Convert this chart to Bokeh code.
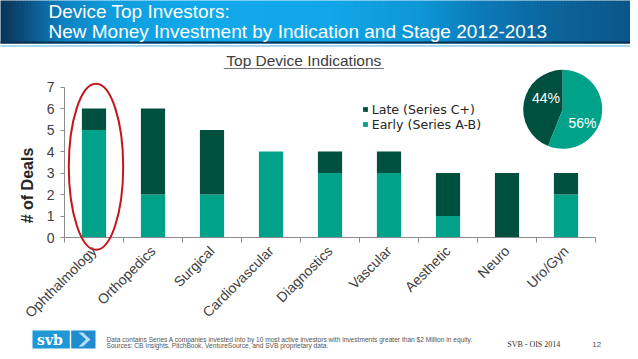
import math
from bokeh.plotting import figure
from bokeh.models import Legend, LegendItem, FixedTicker, ColumnDataSource
from bokeh.core.properties import value
from bokeh.embed import file_html
from bokeh.resources import INLINE

# ---------------- data ----------------
categories = ["Ophthalmology", "Orthopedics", "Surgical", "Cardiovascular",
              "Diagnostics", "Vascular", "Aesthetic", "Neuro", "Uro/Gyn"]
early = [5, 2, 2, 4, 3, 3, 1, 0, 2]
late = [1, 4, 3, 0, 1, 1, 2, 3, 1]
series_names = ["Late (Series C+)", "Early (Series A-B)"]
pie_share = [44, 56]          # late, early (%)
y_ticks = [0, 1, 2, 3, 4, 5, 6, 7]
title_lines = ["Device Top Investors:",
               "New Money Investment by Indication and Stage 2012-2013"]
subtitle = "Top Device Indications"
y_label = "# of Deals"
foot_lines = ["Data contains Series A companies invested into by 10 most active investors with investments greater than $2 Million in equity.",
              "Sources: CB Insights, PitchBook, VentureSource, and SVB proprietary data."]
foot_right = "SVB  - OIS 2014"
page_no = "12"

# ---------------- layout / style ----------------
W, H = 630, 351
FL, FR, FT, FB = 64, 610, 60, 237      # plot frame in canvas pixels
UX, UY = 59.0, 21.5                    # pixels per category / per deal
X0 = 0.5
X1 = X0 + (FR - FL) / UX
Y1 = (FB - FT) / UY

def DX(px):  # canvas pixel -> data x (for decorations outside the frame)
    return X0 + (px - FL) / UX
def DY(py):
    return (FB - py) / UY

EARLY_C = "#00A38A"
LATE_C = "#00503F"
AXIS_C = "#8C8C8C"
TXT_C = "#404040"
FONT = "Liberation Sans"

p = figure(width=W, height=H, x_range=(X0, X1), y_range=(0, Y1),
           output_backend="svg", toolbar_location=None,
           min_border_left=FL, min_border_right=W - FR,
           min_border_top=FT, min_border_bottom=H - FB,
           outline_line_color=None, background_fill_color="white",
           border_fill_color="white")
p.xgrid.visible = False
p.ygrid.visible = False

src = ColumnDataSource(dict(x=[i + 1 for i in range(len(categories))],
                            early=early, late=late))
rs = p.vbar_stack(["early", "late"], x="x", width=0.41, source=src,
                  fill_color=[EARLY_C, LATE_C], line_color=None)

# axes
xa = p.xaxis[0]
xa.ticker = FixedTicker(ticks=[i + 1 for i in range(len(categories))],
                        minor_ticks=[i + 0.5 for i in range(len(categories) + 1)])
xa.bounds = (0.5, len(categories) + 0.5)
xa.major_label_overrides = {i + 1: c for i, c in enumerate(categories)}
xa.major_tick_out = 0
xa.major_tick_in = 0
xa.minor_tick_out = 5
xa.minor_tick_in = 0
xa.axis_line_color = AXIS_C
xa.minor_tick_line_color = AXIS_C
xa.major_label_orientation = math.pi / 4
xa.major_label_text_font = FONT
xa.major_label_text_font_size = "14px"
xa.major_label_text_color = TXT_C
xa.major_label_standoff = 6

ya = p.yaxis[0]
ya.ticker = FixedTicker(ticks=y_ticks)
ya.bounds = (y_ticks[0], y_ticks[-1])
ya.major_tick_out = 4
ya.major_tick_in = 0
ya.minor_tick_out = 0
ya.minor_tick_in = 0
ya.axis_line_color = AXIS_C
ya.major_tick_line_color = AXIS_C
ya.major_label_text_font = FONT
ya.major_label_text_font_size = "14px"
ya.major_label_text_color = TXT_C
ya.major_label_standoff = 6

# legend
legend = Legend(items=[LegendItem(label=series_names[0], renderers=[rs[1]]),
                       LegendItem(label=series_names[1], renderers=[rs[0]])],
                location=(361.7 - FL, FB - 131.8),
                glyph_width=6, glyph_height=6, label_height=15, spacing=0,
                padding=0, margin=0, label_standoff=4,
                label_text_font="DejaVu Sans", label_text_font_size="12.6px",
                label_text_color="#262626",
                border_line_alpha=0, background_fill_alpha=0)
p.add_layout(legend)

# pie
PIE_X, PIE_Y = DX(562.2), DY(108.8)
starts, ends = [], []
acc = math.pi / 2
for s in pie_share:
    starts.append(acc)
    acc += s / 100 * 2 * math.pi
    ends.append(acc)
p.wedge(x=[PIE_X] * 2, y=[PIE_Y] * 2, radius=39.5, radius_units="screen",
        start_angle=starts, end_angle=ends, fill_color=[LATE_C, EARLY_C],
        line_color=None, level="overlay")
p.text(x=[PIE_X] * 2, y=[PIE_Y] * 2, text=[f"{s}%" for s in pie_share],
       x_offset=[-16.7, 19.8], y_offset=[-11.6, 14.0],
       text_align="center", text_baseline="middle", text_color="white",
       text_font=value(FONT), text_font_size="14px", level="overlay")

# highlight ellipse around first category
p.ellipse(x=[DX(95.5)], y=[DY(166.3)], width=54.4, height=166,
          width_units="screen", height_units="screen", fill_alpha=0,
          line_color="#C3161C", line_width=2, level="overlay")

# ---------------- decorations (overlay glyphs, not clipped) ----------------
def box(l, r, t, b, color):
    p.quad(left=[DX(l)], right=[DX(r)], top=[DY(t)], bottom=[DY(b)],
           fill_color=color, line_color=None, level="overlay")

def txt(x, y, s, size, color, font=FONT, style="normal", align="left",
        angle=0.0):
    # y is the vertical centre of the text
    p.text(x=[DX(x)], y=[DY(y)], text=[s], text_font=value(font),
           text_font_size=size, text_color=color, text_font_style=style,
           text_align=align, text_baseline="middle", angle=angle, level="overlay")

# banner gradient
stops = [(0, "#0a3457"), (25, "#0b4f80"), (60, "#0d7fbf"), (110, "#0f9ddd"),
         (200, "#12a9ea"), (330, "#11a6e7"), (420, "#0e96d6"), (480, "#0c7ab8"),
         (560, "#0b6399"), (638, "#0a5587")]
def hex2rgb(h):
    return tuple(int(h[i:i + 2], 16) for i in (1, 3, 5))
def interp(xv):
    for (a, ca), (b, cb) in zip(stops[:-1], stops[1:]):
        if a <= xv <= b:
            t = (xv - a) / (b - a)
            r1, g1, b1 = hex2rgb(ca)
            r2, g2, b2 = hex2rgb(cb)
            return "#%02x%02x%02x" % (round(r1 + (r2 - r1) * t),
                                      round(g1 + (g2 - g1) * t),
                                      round(b1 + (b2 - b1) * t))
    return stops[-1][1]

step = 3
lefts = list(range(0, W, step))
p.quad(left=[DX(v) for v in lefts], right=[DX(v + step + 0.6) for v in lefts],
       top=[DY(0)] * len(lefts), bottom=[DY(43)] * len(lefts),
       fill_color=[interp(v + step / 2) for v in lefts], line_color=None,
       level="overlay")
box(0, W, 41, 43, "#0a3050")
box(0, W, 44.5, 46.5, "#a9d9f2")

txt(48, 10.6, title_lines[0], "19px", "white")
txt(48, 31.3, title_lines[1], "19px", "white")

# subtitle with underline
txt(303.3, 59.9, subtitle, "15.5px", TXT_C, align="center")
box(223.3, 383.3, 67.6, 68.6, "#707070")

# y label
txt(27, 185, y_label, "16px", "#262626", style="bold", align="center",
    angle=math.pi / 2)

# footer
box(32, 69.3, 330, 348, "#1e98d6")
box(70.7, 95, 330, 348, "#1f8dcd")
p.patch(x=[DX(v) for v in [78, 82.5, 90, 82.5, 78, 85.5]],
        y=[DY(v) for v in [332, 332, 339, 346, 346, 339]],
        fill_color="#b7def4", line_color=None, level="overlay")
txt(49.5, 339.3, "svb", "14px", "white", font="DejaVu Serif", style="bold",
    align="center")
txt(106, 339.3, foot_lines[0], "6.6px", "#555555")
txt(106, 344.6, foot_lines[1], "6.6px", "#555555")
txt(506.7, 344, foot_right, "8px", "#333333", font="Liberation Serif")
txt(591.7, 344, page_no, "8px", "#555555")

open("out.html", "w").write(file_html(p, INLINE))
